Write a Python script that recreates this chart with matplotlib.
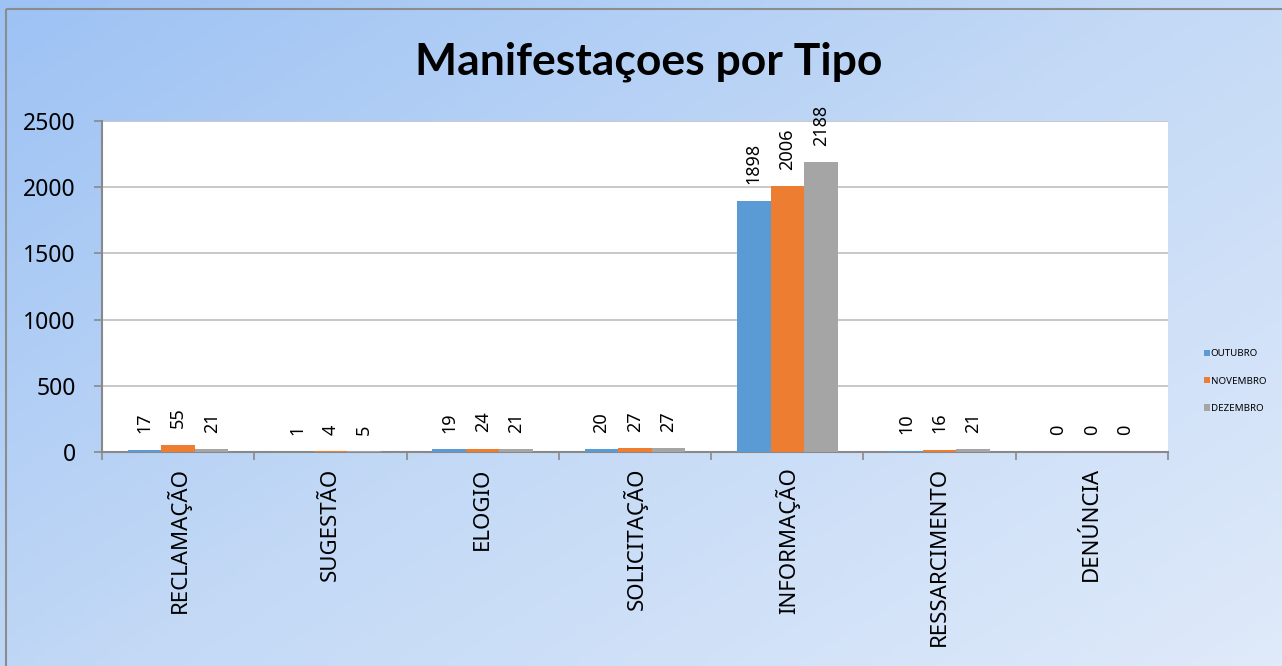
import numpy as np
import matplotlib.pyplot as plt
from matplotlib.colors import LinearSegmentedColormap
from matplotlib.patches import Rectangle

plt.rcParams['font.family'] = ['Noto Sans', 'DejaVu Sans']

categorias = ['RECLAMAÇÃO', 'SUGESTÃO', 'ELOGIO', 'SOLICITAÇÃO',
              'INFORMAÇÃO', 'RESSARCIMENTO', 'DENÚNCIA']
outubro = [17, 1, 19, 20, 1898, 10, 0]
novembro = [55, 4, 24, 27, 2006, 16, 0]
dezembro = [21, 5, 21, 27, 2188, 21, 0]
meses = ['OUTUBRO', 'NOVEMBRO', 'DEZEMBRO']
cores = ['#5b9bd5', '#ed7d31', '#a5a5a5']

fig = plt.figure(figsize=(12.82, 6.66), dpi=100)

# fundo em degrade
bg = fig.add_axes([0, 0, 1, 1], zorder=-10)
xx, yy = np.meshgrid(np.linspace(0, 1, 300), np.linspace(0, 1, 200))
grad = (xx * 0.55 + yy * 0.45)
cmap = LinearSegmentedColormap.from_list('fundo', ['#9dc2f4', '#c3d9f6', '#dfeafa'])
bg.imshow(grad, cmap=cmap, aspect='auto', extent=[0, 1, 1, 0])
bg.set_xlim(0, 1)
bg.set_ylim(1, 0)
bg.axis('off')
bg.add_patch(Rectangle((6 / 1282, 9 / 666), 1.2, 1.2, fill=False,
                       edgecolor='#8c8c8c', linewidth=1.5))

ax = fig.add_axes([102 / 1282, 1 - 452 / 666, (1168 - 102) / 1282, (452 - 121) / 666])
ax.set_facecolor('white')

x = np.arange(len(categorias))
w = 0.22
for i, (serie, nome) in enumerate(zip([outubro, novembro, dezembro], meses)):
    pos = x + (i - 1) * w
    ax.bar(pos, serie, width=w, color=cores[i], label=nome, zorder=3)
    for px, v in zip(pos, serie):
        ax.annotate(str(v), (px, v), xytext=(0, 12), textcoords='offset points',
                    rotation=90, ha='center', va='bottom', fontsize=13)

ax.set_xlim(-0.5, len(categorias) - 0.5)
ax.set_ylim(0, 2500)
ax.set_yticks(range(0, 2501, 500))
ax.yaxis.grid(True, color='#bfbfbf', linewidth=1.2, zorder=0)
ax.set_axisbelow(True)
ax.set_xticks(x)
ax.set_xticklabels(categorias, rotation=90, fontsize=16)
ax.set_xticks(np.arange(-0.5, len(categorias)), minor=True)
ax.tick_params(axis='x', which='major', length=0, pad=11)
ax.tick_params(axis='x', which='minor', length=6, color='#898989', width=1.2)
ax.tick_params(axis='y', length=6, color='#898989', width=1.2, labelsize=16.5, pad=13)
for s in ['top', 'right']:
    ax.spines[s].set_visible(False)
for s in ['left', 'bottom']:
    ax.spines[s].set_color('#898989')
    ax.spines[s].set_linewidth(1.5)

fig.text(649 / 1282, 1 - 62 / 666, 'Manifestaçoes por Tipo', ha='center', va='center',
         fontsize=32, fontweight='bold', family=['Lato', 'DejaVu Sans'])

fig.legend(loc='center left', bbox_to_anchor=(1195 / 1282, 1 - 381 / 666), frameon=False,
           fontsize=7, handlelength=0.6, handleheight=0.6, handletextpad=0.1,
           labelspacing=1.9)

fig.savefig('out.png', dpi=100)
